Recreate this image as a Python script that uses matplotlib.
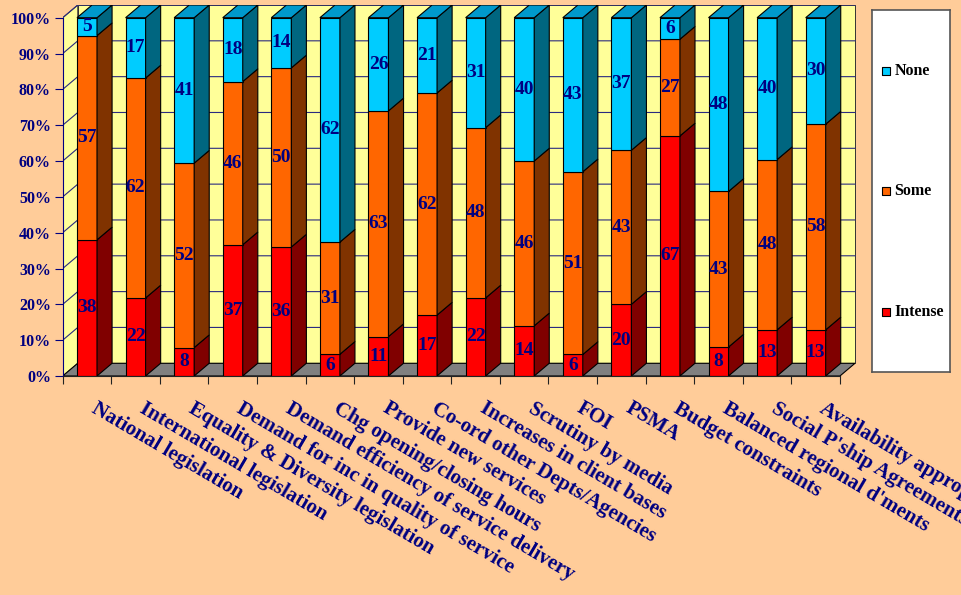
import numpy as np
import matplotlib
matplotlib.use('Agg')
from matplotlib import pyplot as plt
from matplotlib.patches import Polygon

plt.rcParams['font.family'] = ['Liberation Serif', 'DejaVu Serif']
plt.rcParams['font.weight'] = 'bold'

categories = ['National legislation', 'International legislation',
              'Equality & Diversity legislation', 'Demand for inc in quality of service',
              'Demand efficiency of service delivery', 'Chg opening/closing hours',
              'Provide new services', 'Co-ord other Depts/Agencies',
              'Increases in client bases', 'Scrutiny by media', 'FOI', 'PSMA',
              'Budget constraints', "Balanced regional d'ments",
              "Social P'ship Agreements", 'Availability appropriate staff']
intense = [38, 22, 8, 37, 36, 6, 11, 17, 22, 14, 6, 20, 67, 8, 13, 13]
some = [57, 62, 52, 46, 50, 31, 63, 62, 48, 46, 51, 43, 27, 43, 48, 58]
none = [5, 17, 41, 18, 14, 62, 26, 21, 31, 40, 43, 37, 6, 48, 40, 30]

series = ['Intense', 'Some', 'None']
front_cols = ['#FF0000', '#FF6600', '#00CCFF']
side_cols = ['#800000', '#803300', '#006680']
top_col = '#0099CC'

navy = '#000080'
bg = '#FFCC99'
wall = '#FFFF99'

# 3d depth offset in data units
dx, dy = 0.31, 3.55
hw = 0.206
n = len(categories)

fig = plt.figure(figsize=(9.62, 5.95), dpi=100, facecolor=bg)
ax = fig.add_axes([0.0652, 0.3681, 0.8241, 0.6238])
ax.set_xlim(0, n + dx + 0.01)
ax.set_ylim(0, 100 + dy + 0.05)
ax.patch.set_visible(False)

# walls and floor
ax.add_patch(Polygon([(dx, dy), (n + dx, dy), (n + dx, 100 + dy), (dx, 100 + dy)],
                     closed=True, fc=wall, ec='#333333', lw=0.7, zorder=0.5))
ax.add_patch(Polygon([(0, 0), (dx, dy), (dx, 100 + dy), (0, 100)],
                     closed=True, fc=wall, ec='#333333', lw=0.7, zorder=0.5))
for v in range(10, 101, 10):
    ax.plot([0, dx, n + dx], [v, v + dy, v + dy], color='#2a2a80', lw=0.8, zorder=0.6)
ax.add_patch(Polygon([(0, 0), (n, 0), (n + dx, dy), (dx, dy)],
                     closed=True, fc='#808080', ec='black', lw=0.8, zorder=0.7))

data = np.array([intense, some, none], dtype=float)
perc = data / data.sum(axis=0) * 100

for i in range(n):
    x0, x1 = i + 0.5 - hw, i + 0.5 + hw
    bottom = 0
    for k in range(3):
        top = bottom + perc[k, i]
        ax.add_patch(Polygon([(x0, bottom), (x1, bottom), (x1, top), (x0, top)],
                             closed=True, fc=front_cols[k], ec='black', lw=0.8, zorder=2))
        ax.add_patch(Polygon([(x1, bottom), (x1 + dx, bottom + dy), (x1 + dx, top + dy), (x1, top)],
                             closed=True, fc=side_cols[k], ec='black', lw=0.8, zorder=2))
        ax.text(i + 0.5, (bottom + top) / 2, str(int(data[k, i])), ha='center', va='center',
                fontsize=14, fontweight='bold', color=navy, zorder=4)
        bottom = top
    ax.add_patch(Polygon([(x0, 100), (x1, 100), (x1 + dx, 100 + dy), (x0 + dx, 100 + dy)],
                         closed=True, fc=top_col, ec='black', lw=0.8, zorder=2))

# axes
for s in ['top', 'right']:
    ax.spines[s].set_visible(False)
ax.spines['left'].set_bounds(0, 100)
ax.spines['bottom'].set_bounds(0, n)
ax.spines['left'].set_color(navy)
ax.spines['bottom'].set_color('#222222')
ax.set_yticks(range(0, 101, 10))
ax.set_yticklabels([str(v) + '%' for v in range(0, 101, 10)], fontsize=11.5, fontweight='bold')
ax.set_xticks(range(n + 1))
ax.set_xticklabels([])
ax.tick_params(axis='y', direction='out', length=5.5, width=0.8, color=navy,
               labelcolor=navy, pad=3)
ax.tick_params(axis='x', direction='out', length=5.5, width=0.8, color='#222222')

for i, lab in enumerate(categories):
    ax.text(i + 0.72, -6.3, lab, rotation=-30.5, rotation_mode='anchor', ha='left', va='top',
            fontsize=15, fontweight='bold', color=navy)

# legend
lax = fig.add_axes([872 / 962, 1 - 372 / 595, 78 / 962, 362 / 595])
lax.set_xlim(0, 1)
lax.set_ylim(0, 1)
lax.set_facecolor('white')
lax.set_xticks([])
lax.set_yticks([])
for s in lax.spines.values():
    s.set_color('#555555')
    s.set_linewidth(1.2)
leg_y = [0.166, 0.5, 0.831]
for k in range(3):
    lax.scatter([0.18], [leg_y[k]], marker='s', s=40, c=front_cols[k], edgecolors='black',
                linewidths=0.8)
    lax.text(0.29, leg_y[k], series[k], ha='left', va='center', fontsize=11.5,
             fontweight='bold', color='black')

fig.savefig('out.png', dpi=100, facecolor=bg)
